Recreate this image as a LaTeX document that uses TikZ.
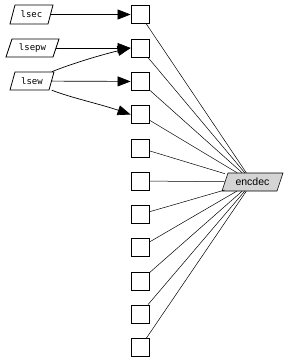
\documentclass[tikz,border=0pt]{standalone}
\usepackage{fontspec}
\setmainfont{Liberation Sans}
\newfontfamily\monof{DejaVu Sans Mono}
\usetikzlibrary{arrows.meta}
\newcommand\parashape[6]{%
  \draw[#6] ({#1+#3},#4) -- (#2,#4) -- ({#2-#3},#5) -- (#1,#5) -- cycle;}
\begin{document}
\begin{tikzpicture}[x=1pt,y=-1pt,
  plbl/.style={inner sep=0pt,font=\monof\fontsize{9}{10}\selectfont},
  pshape/.style={draw,line width=0.8pt},
  sq/.style={draw,line width=0.8pt,minimum width=18pt,minimum height=18pt,inner sep=0pt},
  arr/.style={-{Triangle[length=13pt,width=10pt]},line width=0.7pt},
  ln/.style={line width=0.5pt}]
\useasboundingbox (0,0) rectangle (288,362);
% parallelogram outlines
\parashape{10}{53}{5}{5}{24}{pshape}
\parashape{6}{59}{6}{39}{57}{pshape}
\parashape{10}{54}{5}{72}{90}{pshape}
\parashape{222}{283}{6}{173}{191}{draw,line width=0.6pt,fill=black!17}
% label nodes
\node[plbl,minimum width=38pt,minimum height=19pt] (lsec) at (31.5,14.5) {lsec};
\node[plbl,minimum width=47pt,minimum height=18pt] (lsepw) at (32.5,48) {lsepw};
\node[plbl,minimum width=39pt,minimum height=18pt] (lsew) at (32,81) {lsew};
\node[inner sep=0pt,minimum width=55pt,minimum height=18pt,font=\fontsize{10.5}{12}\selectfont] (enc) at (252.5,182) {encdec};
\foreach \i/\y in {1/14.5,2/48,3/81.5,4/114.5,5/148,6/181,7/214.5,8/247.5,9/281,10/314,11/347.5}{
  \node[sq] (b\i) at (140,\y) {};
  \draw[ln] (b\i) -- (enc);
}
\draw[arr] (lsec) -- (b1);
\draw[arr] (lsepw) -- (b2);
\draw[arr] (lsew.north east) .. controls (68,65) and (100,55) .. (b2.west);
\draw[arr] (lsew) -- (b3);
\draw[arr] (lsew.south east) .. controls (72,98) and (100,104) .. (b4.west);
\end{tikzpicture}
\end{document}
